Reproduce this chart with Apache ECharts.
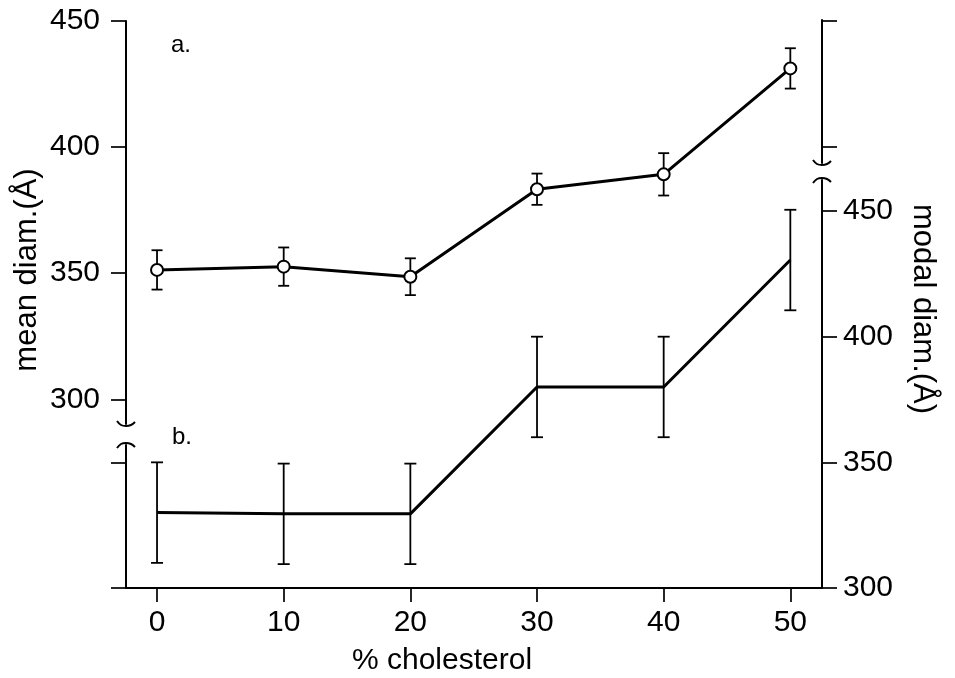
<!DOCTYPE html>
<html>
<head>
<meta charset="utf-8">
<script src="https://cdn.jsdelivr.net/npm/echarts@6/dist/echarts.min.js"></script>
<style>html,body{margin:0;padding:0;background:#fff}#c{width:955px;height:678px}</style>
</head>
<body>
<div id="c"></div>
<script>
// ---- data ----
const cholesterol = [0, 10, 20, 30, 40, 50];
const meanDiam    = [351.3, 352.6, 348.6, 383.3, 389.2, 431.2];
const meanErr     = [7.8, 7.6, 7.3, 6.2, 8.4, 8.0];
const modalDiam   = [330, 329.5, 329.5, 380, 380, 430.5];
const modalErr    = [20, 20, 20, 20, 20, 20];
const xTicks      = [0, 10, 20, 30, 40, 50];
const meanTicks   = [300, 350, 400, 450];
const modalTicks  = [300, 350, 400, 450];

const FONT = '"Liberation Sans", Arial, sans-serif';
const XMIN = -2.45, XMAX = 52.5;

const lineData = (ys) => cholesterol.map((x, i) => [x, ys[i]]);
const errData = (ys, es) => cholesterol.map((x, i) => [x, ys[i] - es[i], ys[i] + es[i]]);

function errRender(halfW) {
  return function (params, api) {
    const x = api.value(0), lo = api.value(1), hi = api.value(2);
    const a = api.coord([x, hi]), b = api.coord([x, lo]);
    const st = { stroke: '#000', lineWidth: 1.8 };
    return { type: 'group', children: [
      { type: 'line', shape: { x1: a[0], y1: a[1], x2: b[0], y2: b[1] }, style: st },
      { type: 'line', shape: { x1: a[0] - halfW, y1: a[1], x2: a[0] + halfW, y2: a[1] }, style: st },
      { type: 'line', shape: { x1: b[0] - halfW, y1: b[1], x2: b[0] + halfW, y2: b[1] }, style: st }
    ]};
  };
}

const axisLine = { show: true, onZero: false, lineStyle: { color: '#000', width: 2 } };
function hiddenX(g) {
  return { type: 'value', gridIndex: g, min: XMIN, max: XMAX, show: false };
}
function yAx(g, pos, min, max, ticks, labels, margin) {
  return {
    type: 'value', gridIndex: g, position: pos, min: min, max: max,
    axisLine: axisLine,
    axisTick: { show: true, inside: false, length: 15, customValues: ticks, lineStyle: { color: '#000', width: 1.7 } },
    axisLabel: labels ? { show: true, customValues: labels, margin: margin, color: '#000', fontSize: 30, fontFamily: FONT } : { show: false },
    splitLine: { show: false }
  };
}

const grids = [
  { left: 126, right: 133, top: 21, height: 403 },   // left upper (mean)
  { left: 126, right: 133, top: 445, height: 143 },  // left lower
  { left: 126, right: 133, top: 180, height: 408 },  // right lower (modal)
  { left: 126, right: 133, top: 20, height: 143 }    // right upper
];

const chart = echarts.init(document.getElementById('c'), null, { renderer: 'canvas' });
const option = {
  animation: false,
  backgroundColor: '#fff',
  grid: grids,
  xAxis: [
    hiddenX(0), hiddenX(1),
    {
      type: 'value', gridIndex: 2, min: XMIN, max: XMAX,
      axisLine: axisLine,
      axisTick: { show: true, length: 14, customValues: xTicks, lineStyle: { color: '#000', width: 1.7 } },
      axisLabel: { customValues: xTicks, margin: 20, color: '#000', fontSize: 30, fontFamily: FONT },
      splitLine: { show: false }
    },
    hiddenX(3)
  ],
  yAxis: [
    yAx(0, 'left', 290.2, 450, meanTicks, meanTicks, 26),
    yAx(1, 'left', 300, 356.9, [300, 350], null),
    yAx(2, 'right', 300, 462.35, modalTicks, modalTicks, 21),
    yAx(3, 'right', 393.7, 450.4, [400, 450], null)
  ],
  series: [
    { type: 'custom', xAxisIndex: 0, yAxisIndex: 0, renderItem: errRender(5.5),
      encode: { x: 0, y: [1, 2] }, data: errData(meanDiam, meanErr), z: 2 },
    { type: 'line', xAxisIndex: 0, yAxisIndex: 0, data: lineData(meanDiam),
      symbol: 'circle', symbolSize: 12,
      itemStyle: { color: '#fff', borderColor: '#000', borderWidth: 2 },
      lineStyle: { color: '#000', width: 3 }, z: 3 },
    { type: 'custom', xAxisIndex: 2, yAxisIndex: 2, renderItem: errRender(6),
      encode: { x: 0, y: [1, 2] }, data: errData(modalDiam, modalErr), z: 2 },
    { type: 'line', xAxisIndex: 2, yAxisIndex: 2, data: lineData(modalDiam),
      symbol: 'none', lineStyle: { color: '#000', width: 3 }, z: 3 }
  ]
};
chart.setOption(option);

// axis-break squiggles and texts
function px(g, v) { return chart.convertToPixel({ gridIndex: g }, v); }
function curl(p, dir) { // dir = +1: segment ends here from above; -1: segment starts here going down
  const x = p[0], y = p[1];
  return { type: 'polyline', z: 10,
    shape: { points: [[x - 9, y - 3 * dir], [x - 5, y + 1 * dir], [x, y + 2 * dir], [x + 5, y + 1 * dir], [x + 9, y - 2 * dir]], smooth: 0.4 },
    style: { stroke: '#000', lineWidth: 2, fill: null } };
}
const ya = option.yAxis;
const g = [];
g.push(curl(px(0, [XMIN, ya[0].min]), 1));
g.push(curl(px(1, [XMIN, ya[1].max]), -1));
g.push(curl(px(3, [XMAX, ya[3].min]), 1));
g.push(curl(px(2, [XMAX, ya[2].max]), -1));

function txt(text, x, y, size, rot, align) {
  return { type: 'text', x: x, y: y, rotation: rot || 0,
    style: { text: text, font: size + 'px ' + FONT, fill: '#000', textAlign: align || 'center', textVerticalAlign: 'middle' } };
}
g.push(txt('mean diam.(Å)', 27, 270, 31, Math.PI / 2));
g.push(txt('modal diam.(Å)', 923, 309, 31, -Math.PI / 2));
g.push(txt('% cholesterol', 442, 661, 30, 0));
g.push(txt('a.', 171, 45, 24, 0, 'left'));
g.push(txt('b.', 172, 437, 24, 0, 'left'));
chart.setOption({ graphic: g });
</script>
</body>
</html>
